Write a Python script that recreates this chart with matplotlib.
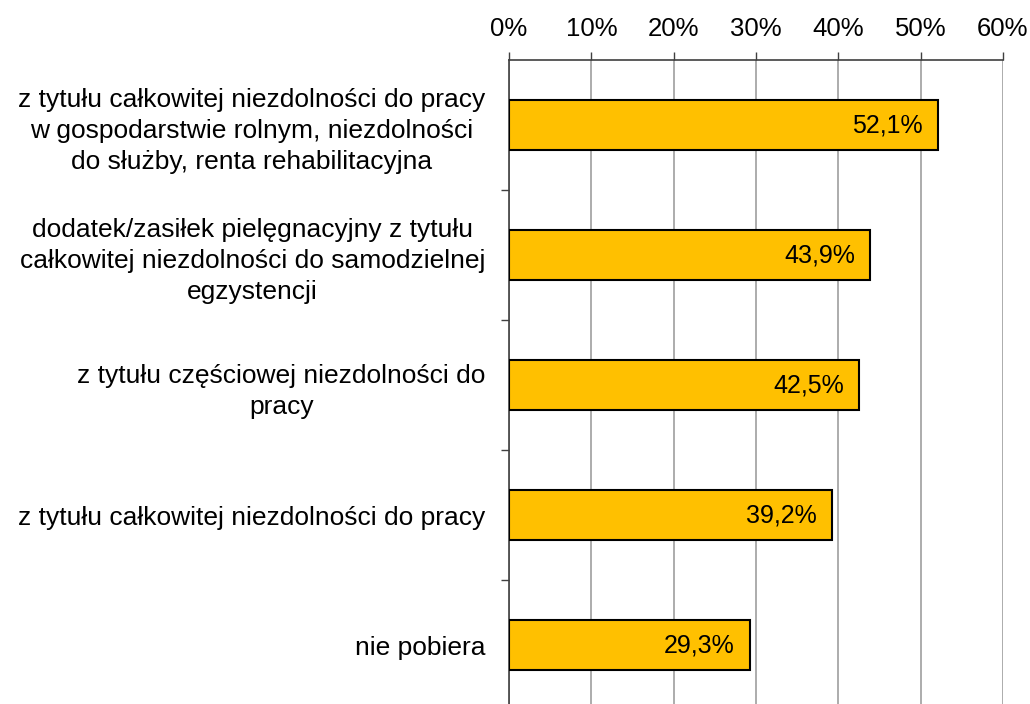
import matplotlib
matplotlib.use("Agg")
import matplotlib.pyplot as plt
from matplotlib.ticker import FuncFormatter, FixedLocator

plt.rcParams['font.family'] = ['Liberation Sans', 'DejaVu Sans']

categories = [
    "z tytułu całkowitej niezdolności do pracy\nw gospodarstwie rolnym, niezdolności\ndo służby, renta rehabilitacyjna",
    "dodatek/zasiłek pielęgnacyjny z tytułu\ncałkowitej niezdolności do samodzielnej\negzystencji",
    "z tytułu częściowej niezdolności do\npracy",
    "z tytułu całkowitej niezdolności do pracy",
    "nie pobiera",
]
values = [52.1, 43.9, 42.5, 39.2, 29.3]
value_labels = ["52,1%", "43,9%", "42,5%", "39,2%", "29,3%"]
x_ticks = [0, 10, 20, 30, 40, 50, 60]

fig = plt.figure(figsize=(10.30, 7.04), dpi=100)
ax = fig.add_axes([509 / 1030, 1 - 710 / 704, (1003 - 509) / 1030, 650 / 704])

n = len(categories)
ypos = list(range(n))
ax.barh(ypos, values, height=0.385, color="#FFC000", edgecolor="black", linewidth=1.5, zorder=3)

ax.set_xlim(0, 60)
ax.set_ylim(n - 0.5, -0.5)

for y, v, lab in zip(ypos, values, value_labels):
    ax.annotate(lab, xy=(v, y), xytext=(-11, 0), textcoords="offset points",
                ha="right", va="center", fontsize=18, color="black", zorder=4)

ax.xaxis.tick_top()
ax.set_xticks(x_ticks)
ax.xaxis.set_major_formatter(FuncFormatter(lambda v, p: f"{int(v)}%"))
ax.tick_params(axis="x", which="major", length=6, width=1, color="#404040",
               labelsize=18.5, pad=8, direction="out")
ax.grid(axis="x", color="#A6A6A6", linewidth=1.3, zorder=0)

# category labels and boundary ticks on the y axis
ax.set_yticks(ypos)
ax.set_yticklabels(categories, fontsize=19, linespacing=1.38, ha="right",
                   multialignment="center")
ax.tick_params(axis="y", which="major", length=0, pad=17)
ax.yaxis.set_minor_locator(FixedLocator([i + 0.5 for i in range(n - 1)]))
ax.tick_params(axis="y", which="minor", length=6, width=1, color="#404040", direction="out")

for s in ["right", "bottom"]:
    ax.spines[s].set_visible(False)
ax.spines["left"].set_color("#404040")
ax.spines["top"].set_color("#404040")
ax.spines["left"].set_linewidth(1.2)
ax.spines["top"].set_linewidth(1.2)

fig.savefig("out.png", dpi=100)
